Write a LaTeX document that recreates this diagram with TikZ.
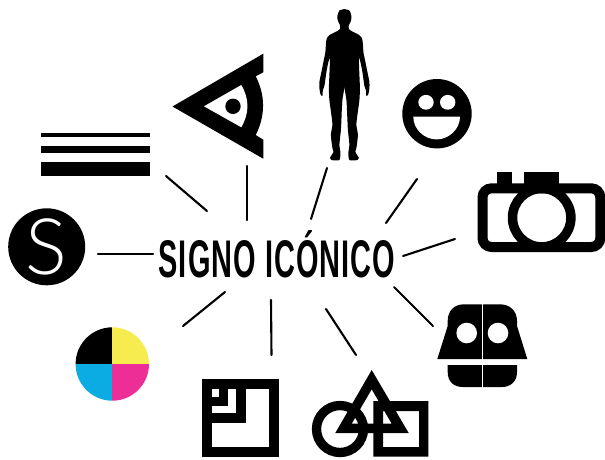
\documentclass[tikz,border=0pt]{standalone}
\usepackage{xcolor}
\usepackage{fontspec}
\usepackage{tikz}
\usetikzlibrary{positioning}

\newfontfamily\titlefont[FakeStretch=0.546,LetterSpace=2.0]{Liberation Sans Bold}
\newfontfamily\logofont{Lato Light}

\definecolor{cmykyellow}{HTML}{F7EC4F}
\definecolor{cmykmagenta}{HTML}{EC2E96}
\definecolor{cmykcyan}{HTML}{0AACE3}

\begin{document}
\begin{tikzpicture}[
    x=1pt,
    y=-1pt,
    ray/.style={line width=2.1pt,line cap=round},
    title node/.style={font=\titlefont\fontsize{53}{53}\selectfont,inner sep=0pt,anchor=base},
    logo node/.style={font=\logofont\fontsize{78}{78}\selectfont,text=white,inner sep=0pt},
    ink/.style={fill=black,draw=none},
    blank/.style={fill=white,draw=none},
    man half/.pic={
        \fill[black] plot[smooth,tension=0.45] coordinates {
            (-0.8,9) (5,10.5) (7,16) (6.5,21) (4.5,25) (4.5,29) (8,31.5) (14,34.5) (17.5,38)
            (18.5,44) (19,52) (21,62) (23,72) (25,82) (25,88) (24,94) (22,96) (21.5,90)
            (20,86) (18,72) (16,62) (14.5,58) (14.8,70) (15.5,88) (15,100) (13,115) (12,125)
            (13.5,135) (12,148) (11,152) (14.5,158) (13,160) (5,160) (4,152) (5,145)
            (3.5,130) (3,120) (2,100) (-0.8,84)} -- cycle;
    }
]

\useasboundingbox (0,0) rectangle (605,459);

\node[title node] (title) at (277,277) {SIGNO ICÓNICO};

\coordinate (bars a) at (166,176);
\coordinate (bars b) at (207,211);
\coordinate (eye a) at (247,166);
\coordinate (eye b) at (247,220);
\coordinate (man a) at (327,168);
\coordinate (man b) at (311,219);
\coordinate (smile a) at (417,179);
\coordinate (smile b) at (386,223);
\coordinate (camera a) at (455,239);
\coordinate (camera b) at (403,256);
\coordinate (robot a) at (394,287);
\coordinate (robot b) at (433,326);
\coordinate (shapes a) at (326,309);
\coordinate (shapes b) at (356,355);
\coordinate (square a) at (271,300);
\coordinate (square b) at (271.5,355);
\coordinate (wheel a) at (225,292);
\coordinate (wheel b) at (183,326);
\coordinate (logo a) at (98,254);
\coordinate (logo b) at (153,254);

\draw[ray] (bars a) -- (bars b);
\draw[ray] (eye a) -- (eye b);
\draw[ray] (man a) -- (man b);
\draw[ray] (smile a) -- (smile b);
\draw[ray] (camera a) -- (camera b);
\draw[ray] (robot a) -- (robot b);
\draw[ray] (shapes a) -- (shapes b);
\draw[ray] (square a) -- (square b);
\draw[ray] (wheel a) -- (wheel b);
\draw[ray] (logo a) -- (logo b);

% bars
\fill[ink] (41,132.5) rectangle (150,136.7);
\fill[ink] (41,145.5) rectangle (150,152.7);
\fill[ink] (41,161.5) rectangle (150,176);

% eye
\fill[ink] (172.5,106.5) -- (263.3,53.7) -- (263.3,72.3) -- (255.7,76.3)
    .. controls (265.5,95) and (265.5,116) .. (255.7,135)
    -- (263.3,139.7) -- (263.3,158.7) -- cycle;
\fill[blank] (204,106.3) -- (241.3,85) .. controls (249.5,99) and (249.5,113) .. (241.3,127.3) -- cycle;
\fill[ink] (233,106.3) circle (7.7);

% man
\pic at (344.4,0) {man half};
\pic[xscale=-1] at (344.4,0) {man half};

% smile
\fill[ink] (437,113.7) circle (34.7);
\fill[blank] (426,102.3) ellipse (7.7 and 7.4);
\fill[blank] (447.7,102.3) ellipse (7.7 and 7.4);
\fill[blank] (413.3,116.7) .. controls (413.3,129) and (424,139.4) .. (436.6,139.4)
    .. controls (449,139.4) and (460,129) .. (460,116.7) -- cycle;

% camera
\fill[ink] (497.3,172) rectangle (511.7,184);
\fill[ink] (523.7,172) rectangle (559,184);
\draw[line width=10pt,rounded corners=9pt] (482.5,188.3) rectangle (600.3,247);
\draw[line width=9.5pt] (541.7,217.7) circle (29.2);

% robot
\fill[ink] (482.3,304.3) -- (464,304.3) .. controls (454,304.3) and (447.7,311) .. (447.7,321)
    -- (447.7,326) -- (437.3,359) -- (527.3,359) -- (517,326) -- (517,321)
    .. controls (517,311) and (510,304.3) .. (500,304.3) -- cycle;
\fill[ink] (447.7,365) -- (517,365) -- (517,372) .. controls (517,382) and (510,387) .. (502,387)
    -- (463,387) .. controls (454,387) and (447.7,382) .. (447.7,372) -- cycle;
\fill[blank] (466.7,333) circle (10.3);
\fill[blank] (498,333) circle (10.3);
\fill[blank] (481.5,303) rectangle (483.2,388);

% shapes
\draw[line width=9.3pt] (340,429) circle (23.5);
\fill[ink,even odd rule] (371.7,370) -- (408.7,433) -- (335.3,433) -- cycle
    (371.7,389.3) -- (391.7,423.7) -- (351.7,423.7) -- cycle;
\fill[ink,even odd rule] (373.3,401) rectangle (428.3,456.7) (383,411) rectangle (419,447);

% square
\fill[ink] (202.3,379.3) rectangle (279,456.7);
\fill[blank] (211.7,389) rectangle (269.3,447);
\fill[ink] (211.7,389) rectangle (245.7,423);
\fill[blank] (211.7,389) rectangle (236,413.3);
\fill[ink] (211.7,389) rectangle (228.3,405.7);
\fill[blank] (211.7,389) rectangle (219,396.7);

% wheel
\begin{scope}
\clip (112.3,364) circle (36.7);
\fill[black] (75,327) rectangle (112.3,364);
\fill[cmykyellow] (112.3,327) rectangle (150,364);
\fill[cmykmagenta] (112.3,364) rectangle (150,401);
\fill[cmykcyan] (75,364) rectangle (112.3,401);
\end{scope}

% logo
\fill[ink] (46.7,246.8) circle (38.5);
\node[logo node] (logo) at (46.7,246.8) {S};

\end{tikzpicture}
\end{document}
